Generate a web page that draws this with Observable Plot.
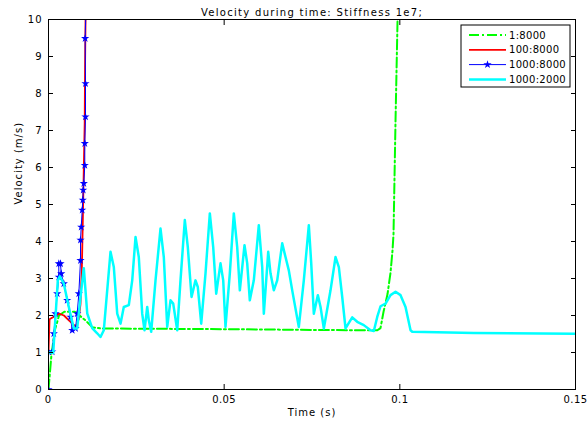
<!DOCTYPE html>
<html><head><meta charset="utf-8">
<script src="https://cdn.jsdelivr.net/npm/d3@7"></script>
<script src="https://cdn.jsdelivr.net/npm/@observablehq/plot@0.6"></script>
<style>body{margin:0;background:#fff;}</style>
</head><body><div id="chart"></div>
<script>
const titleText = "Velocity during time: Stiffness 1e7;";
const xLabel = "Time (s)";
const yLabel = "Velocity (m/s)";
const seriesNames = ["1:8000", "100:8000", "1000:8000", "1000:2000"];
const seriesColors = ["#00ff00", "#ff0000", "#0000ff", "#00ffff"];
const xTicks = [0, 0.05, 0.1, 0.15];
const xTickLabels = ["0", "0.05", "0.1", "0.15"];
const yTicks = [0, 1, 2, 3, 4, 5, 6, 7, 8, 9, 10];

// 1:8000 (green)
const greenT = [0, 0.0008, 0.0018, 0.003, 0.0045, 0.0075, 0.0105, 0.0125, 0.015, 0.05, 0.09, 0.0936, 0.0945, 0.09536, 0.0965, 0.09735, 0.09792, 0.0982, 0.09878, 0.09935, 0.0996];
const greenV = [0, 0.9, 1.6, 2.0, 2.1, 2.1, 1.87, 1.68, 1.65, 1.63, 1.6, 1.6, 1.66, 2.1, 2.58, 3.16, 3.76, 4.2, 7.3, 10, 10.8];
// 100:8000 (red)
const redT = [0, 0.0003, 0.003, 0.0044, 0.0058, 0.0068, 0.0078, 0.0086, 0.0091, 0.0095, 0.0098, 0.01005, 0.0103, 0.0104, 0.0106];
const redV = [1.0, 1.9, 2.05, 2.0, 1.87, 1.78, 1.7, 1.9, 2.3, 3.3, 4.7, 6.0, 7.2, 8.7, 10.5];
// 1000:8000 (blue, star markers)
const blueT = [0, 0, 0.00105, 0.00151, 0.00199, 0.00248, 0.00293, 0.00293, 0.00342, 0.00362, 0.00436, 0.00532, 0.00626, 0.00675, 0.00769, 0.00817, 0.00863, 0.00911, 0.00911, 0.00931, 0.00959, 0.00976, 0.00988, 0.01005, 0.01033, 0.01033, 0.01053, 0.01053, 0.01043, 0.01073];
const blueV = [0, 1.02, 1.02, 1.51, 2.05, 2.59, 3.04, 3.4, 3.4, 3.13, 2.86, 2.41, 1.96, 1.6, 1.65, 2.05, 2.59, 3.49, 4.04, 4.39, 4.85, 5.12, 5.39, 5.57, 6.06, 6.65, 7.37, 8.27, 9.49, 10.5];
// 1000:2000 (cyan)
const cyanT = [0, 0.00134, 0.00199, 0.00265, 0.00322, 0.00436, 0.00578, 0.0072, 0.00817, 0.00911, 0.01005, 0.01102, 0.01244, 0.01386, 0.0148, 0.01574, 0.01671, 0.01765, 0.01859, 0.01956, 0.0205, 0.02143, 0.02286, 0.02383, 0.02477, 0.0257, 0.02667, 0.02733, 0.0281, 0.02855, 0.02923, 0.03046, 0.03188, 0.03282, 0.03379, 0.03473, 0.0355, 0.03664, 0.03757, 0.0388, 0.03965, 0.04071, 0.04184, 0.0425, 0.04347, 0.04469, 0.04592, 0.04688, 0.04774, 0.04896, 0.04973, 0.05038, 0.05161, 0.05275, 0.05371, 0.05446, 0.05579, 0.05656, 0.0573, 0.05844, 0.05986, 0.06083, 0.06129, 0.06254, 0.06319, 0.06413, 0.0651, 0.06652, 0.06746, 0.0684, 0.06937, 0.07125, 0.07267, 0.0741, 0.07478, 0.07552, 0.07666, 0.07743, 0.07837, 0.08027, 0.0817, 0.08264, 0.0836, 0.08454, 0.08645, 0.08787, 0.08975, 0.09166, 0.0926, 0.09357, 0.09451, 0.09593, 0.09735, 0.09878, 0.1002, 0.10162, 0.10305, 0.10353, 0.12106, 0.15];
const cyanV = [1.0, 0.99, 1.96, 2.95, 3.06, 2.86, 2.23, 1.65, 1.65, 2.5, 3.28, 2.06, 1.66, 1.52, 1.42, 1.6, 2.68, 3.72, 3.31, 2.05, 1.78, 2.23, 2.28, 2.95, 4.12, 3.58, 2.05, 1.6, 2.23, 1.87, 1.56, 2.95, 4.35, 3.58, 1.69, 2.41, 2.32, 1.6, 2.95, 4.58, 3.85, 2.5, 2.95, 2.77, 1.78, 3.14, 4.76, 3.85, 2.59, 3.41, 2.95, 1.69, 3.14, 4.76, 3.85, 2.68, 3.9, 3.41, 2.41, 2.95, 4.44, 3.31, 2.05, 3.72, 3.14, 2.68, 2.95, 3.95, 3.58, 3.22, 2.68, 1.69, 2.95, 4.44, 3.41, 2.05, 2.55, 2.23, 1.65, 2.68, 3.58, 3.31, 2.5, 1.65, 1.95, 1.83, 1.74, 1.6, 1.58, 1.96, 2.25, 2.32, 2.55, 2.64, 2.55, 2.23, 1.6, 1.56, 1.53, 1.51];

const rows = (T, V) => T.map((t, i) => ({t, v: V[i]}));
const green = rows(greenT, greenV), red = rows(redT, redV), blue = rows(blueT, blueV), cyan = rows(cyanT, cyanV);

const W = 587, H = 426;
const M = {top: 19, right: 12, bottom: 37, left: 48};
const FONT = "DejaVu Sans";

const chart = Plot.plot({
  width: W, height: H,
  marginTop: M.top, marginRight: M.right, marginBottom: M.bottom, marginLeft: M.left,
  x: {domain: [0, 0.15]},
  y: {domain: [0, 10]},
  style: {fontFamily: FONT, fontSize: "10px", color: "#000", background: "#fff", overflow: "visible", letterSpacing: "1px"},
  marks: [
    Plot.line(green, {x: "t", y: "v", stroke: seriesColors[0], strokeWidth: 2, strokeDasharray: "10,3,2,3", clip: true}),
    Plot.line(red, {x: "t", y: "v", stroke: seriesColors[1], strokeWidth: 1.8, clip: true}),
    Plot.line(blue, {x: "t", y: "v", stroke: seriesColors[2], strokeWidth: 1, clip: true}),
    Plot.dot(blue, {x: "t", y: "v", symbol: "star", r: 2.6, fill: seriesColors[2], stroke: "none", clip: true}),
    Plot.line(cyan, {x: "t", y: "v", stroke: seriesColors[3], strokeWidth: 2.5, clip: true}),
    Plot.frame({stroke: "#000", strokeWidth: 1}),
    Plot.axisX({anchor: "bottom", ticks: xTicks, tickSize: -5, tickPadding: 11, tickFormat: d => xTickLabels[xTicks.indexOf(d)], label: null}),
    Plot.axisX({anchor: "top", ticks: xTicks, tickSize: -5, tickFormat: () => "", label: null}),
    Plot.axisY({anchor: "left", ticks: yTicks, tickSize: -5, tickPadding: 11, tickFormat: d => String(d), label: null}),
    Plot.axisY({anchor: "right", ticks: yTicks, tickSize: -5, tickFormat: () => "", label: null}),
    Plot.text([titleText], {frameAnchor: "top", dy: -11, text: d => d, fontSize: 10}),
    Plot.text([xLabel], {frameAnchor: "bottom", dy: 26, text: d => d, fontSize: 10}),
    Plot.text([yLabel], {frameAnchor: "left", dx: -30, rotate: -90, text: d => d, fontSize: 10})
  ]
});
document.getElementById("chart").appendChild(chart);

const svg = d3.select(chart);
svg.selectAll("text").filter(function () { return this.textContent === titleText; })
  .attr("letter-spacing", "1.3px");
svg.selectAll("text").filter(function () { return xTickLabels.includes(this.textContent) && this.textContent.includes("."); })
  .attr("letter-spacing", "0.4px");

// Legend (MATLAB style box, top-right inside the axes)
const LW = 109, LH = 62;
const lx = W - M.right - 5 - LW, ly = M.top + 6;
const g = svg.append("g").attr("font-family", FONT).attr("font-size", 10)
  .attr("letter-spacing", "0.3px").attr("text-anchor", "start");
g.append("rect").attr("x", lx).attr("y", ly).attr("width", LW).attr("height", LH)
  .attr("fill", "#fff").attr("stroke", "#000");
const styles = [
  {w: 2, dash: "10,3,2,3"}, {w: 1.8, dash: null}, {w: 1, dash: null, star: true}, {w: 2.5, dash: null}
];
seriesNames.forEach((name, i) => {
  const yy = ly + 10 + i * 14.8;
  g.append("line").attr("x1", lx + 8).attr("x2", lx + 45).attr("y1", yy).attr("y2", yy)
    .attr("stroke", seriesColors[i]).attr("stroke-width", styles[i].w)
    .attr("stroke-dasharray", styles[i].dash);
  if (styles[i].star) {
    g.append("path").attr("d", d3.symbol(d3.symbolStar, Math.PI * 2.6 * 2.6)())
      .attr("transform", `translate(${lx + 26.5},${yy})`).attr("fill", seriesColors[i]);
  }
  g.append("text").attr("x", lx + 48).attr("y", yy).attr("dy", "0.35em")
    .attr("text-anchor", "start").text(name);
});
</script>
</body></html>
